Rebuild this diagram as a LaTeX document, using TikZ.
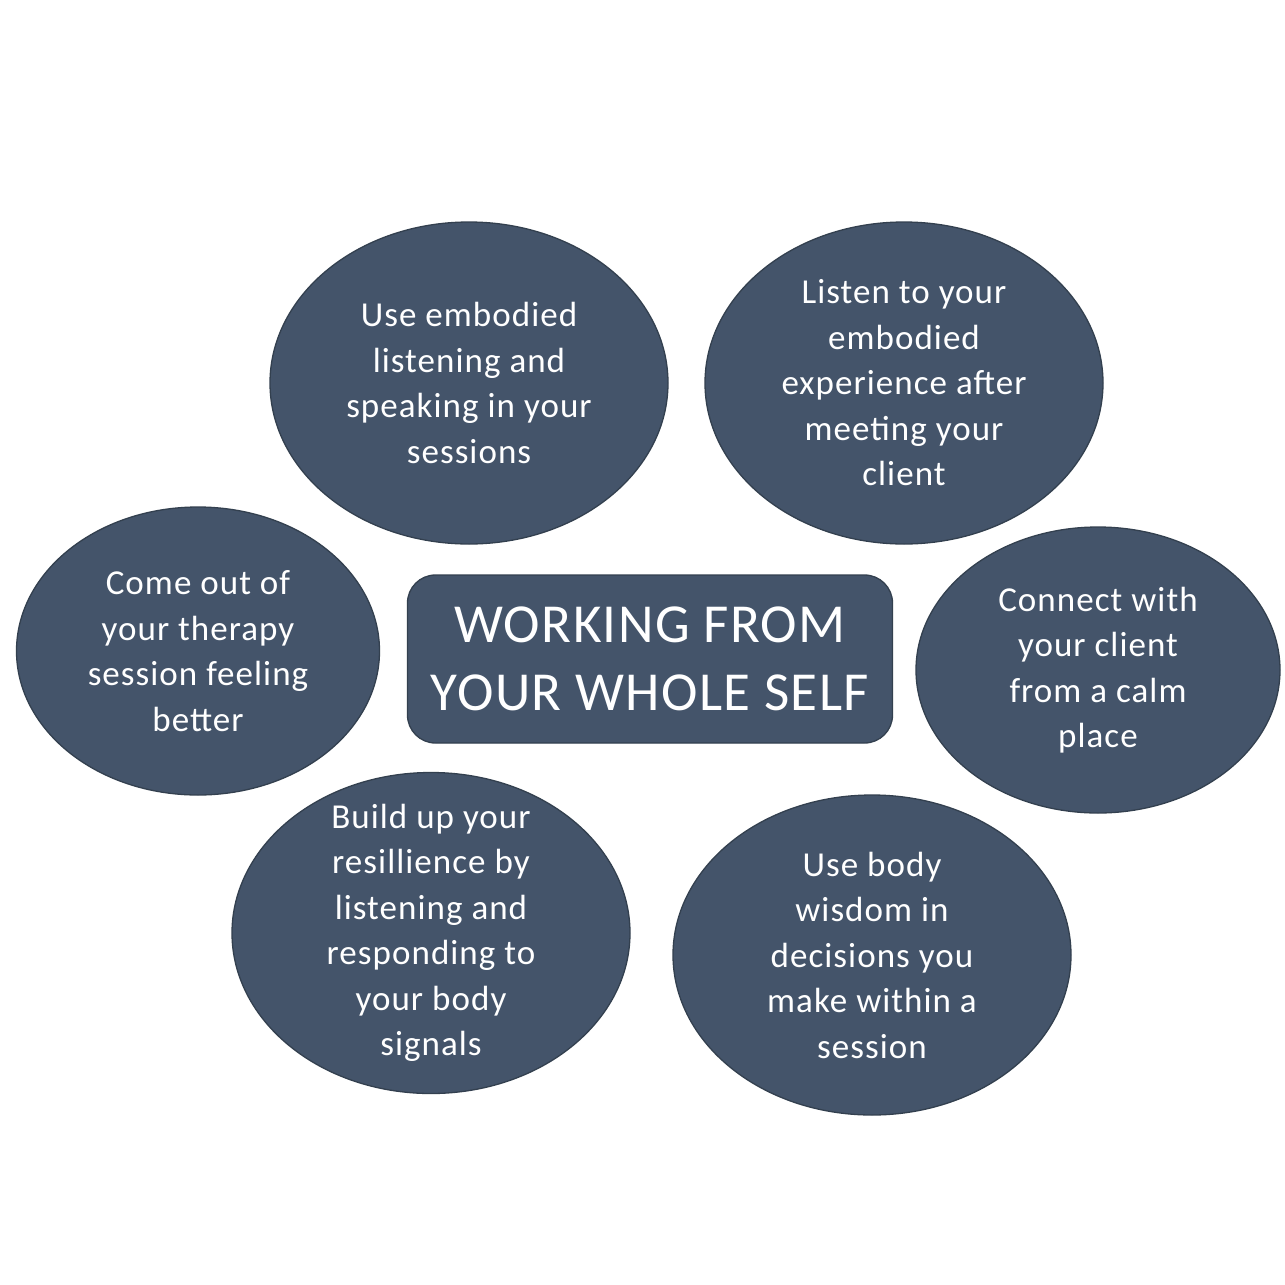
\documentclass[tikz,border=0pt]{standalone}
\usepackage{fontspec}
\setmainfont{Carlito}
\newfontfamily\bubblefont[LetterSpace=3]{Carlito}
\newfontfamily\titlefont[LetterSpace=2.5]{Carlito}
\usetikzlibrary{shapes.geometric}
\definecolor{slate}{HTML}{44546A}
\definecolor{slateline}{HTML}{33404F}
\tikzset{
  bubble/.style={ellipse, fill=slate, draw=slateline, line width=1.3pt, inner sep=0pt},
  btext/.style={text=white, align=center, inner sep=0pt, font=\bubblefont\fontsize{35}{45.5}\selectfont},
  titlebox/.style={rectangle, rounded corners=28pt, fill=slate, draw=slateline, line width=1.3pt,
    minimum width=485pt, minimum height=168pt, inner sep=0pt},
  ttext/.style={text=white, align=center, inner sep=0pt, font=\titlefont\fontsize{55}{68}\selectfont}
}
\begin{document}
\begin{tikzpicture}[x=1pt,y=-1pt]
\useasboundingbox (0,0) rectangle (1285,1285);
\fill[white] (0,0) rectangle (1285,1285);
\node[bubble, minimum width=398pt, minimum height=322pt] (e1) at (469,383) {};
\node[btext] (t1) at (e1.center) {Use embodied\\listening and\\speaking in your\\sessions};
\node[bubble, minimum width=398pt, minimum height=322pt] (e2) at (904,383) {};
\node[btext] (t2) at (e2.center) {Listen to your\\embodied\\experience after\\meeting your\\client};
\node[bubble, minimum width=363pt, minimum height=288pt] (e3) at (198,651) {};
\node[btext] (t3) at (e3.center) {Come out of\\your therapy\\session feeling\\better};
\node[bubble, minimum width=364pt, minimum height=286pt] (e4) at (1098,670) {};
\node[btext] (t4) at (e4.center) {Connect with\\your client\\from a calm\\place};
\node[bubble, minimum width=398pt, minimum height=321pt] (e5) at (431,933) {};
\node[btext] (t5) at (e5.center) {Build up your\\resillience by\\listening and\\responding to\\your body\\signals};
\node[bubble, minimum width=398pt, minimum height=320pt] (e6) at (872,955) {};
\node[btext] (t6) at (e6.center) {Use body\\wisdom in\\decisions you\\make within a\\session};
\node[titlebox] (c) at (650,659) {};
\node[ttext] (ct) at (c.center) {WORKING FROM\\YOUR WHOLE SELF};
\end{tikzpicture}
\end{document}
